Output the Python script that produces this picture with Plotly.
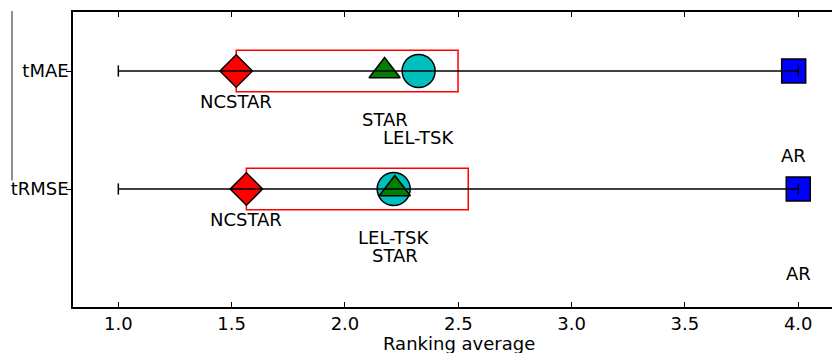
import plotly.graph_objects as go

# ---- data ----
metrics = ["tMAE", "tRMSE"]
metric_pos = [1, 0]
methods = ["NCSTAR", "LEL-TSK", "STAR", "AR"]
rank_tmae = [1.52, 2.325, 2.175, 3.98]
rank_trmse = [1.565, 2.215, 2.22, 4.0]
rank_range = [1.0, 4.0]
critical_difference = 0.979
xtick_vals = [1.0, 1.5, 2.0, 2.5, 3.0, 3.5, 4.0]
xtick_text = ["1.0", "1.5", "2.0", "2.5", "3.0", "3.5", "4.0"]
x_title = "Ranking average"

# ---- styles ----
FONT = "DejaVu Sans"
FS = 18
sym = {"NCSTAR": "diamond", "LEL-TSK": "circle", "STAR": "triangle-up", "AR": "square"}
col = {"NCSTAR": "#ff0000", "LEL-TSK": "#00bfbf", "STAR": "#008000", "AR": "#0000ff"}
siz = {"NCSTAR": 25, "LEL-TSK": 33, "STAR": 27, "AR": 24}

fig = go.Figure()
ranks = [rank_tmae, rank_trmse]
annotations = []
shapes = []

for m in methods:
    xs = [r[methods.index(m)] for r in ranks]
    fig.add_trace(go.Scatter(
        x=xs, y=metric_pos, mode="markers",
        marker=dict(symbol=sym[m], color=col[m], size=siz[m],
                    line=dict(color="black", width=1.5)),
        showlegend=False, hoverinfo="skip"))

for yv, r in zip(metric_pos, ranks):
    fig.add_trace(go.Scatter(
        x=rank_range, y=[yv, yv], mode="lines+markers",
        line=dict(color="black", width=1.5),
        marker=dict(symbol="line-ns-open", size=8, color="black",
                    line=dict(color="black", width=1.5)),
        showlegend=False, hoverinfo="skip"))
    best = min(r)
    shapes.append(dict(type="rect", xref="x", yref="y", x0=best,
                       x1=best + critical_difference, y0=yv - 0.175, y1=yv + 0.175,
                       line=dict(color="#ff0000", width=1.5), layer="below"))
    order = sorted(range(len(methods)), key=lambda i: r[i])
    for k, i in enumerate(order):
        annotations.append(dict(x=r[i], y=yv - 0.255 - 0.155 * k, xref="x", yref="y",
                                text=methods[i], showarrow=False,
                                xanchor="center", yanchor="middle",
                                font=dict(family=FONT, size=FS, color="black")))

annotations.append(dict(x=0.5086, y=-0.124, xref="paper", yref="paper",
                        text=x_title, showarrow=False, xanchor="center",
                        yanchor="middle",
                        font=dict(family=FONT, size=FS, color="black")))

shapes.append(dict(type="line", xref="paper", yref="paper", x0=-0.0804, x1=-0.0804,
                   y0=1.003, y1=0.4286, line=dict(color="#444444", width=1.2)))

fig.update_layout(
    width=832, height=353,
    margin=dict(l=73, r=0, t=12, b=46),
    paper_bgcolor="white", plot_bgcolor="white",
    font=dict(family=FONT, size=FS, color="black"),
    annotations=annotations, shapes=shapes,
    xaxis=dict(range=[0.8, 4.149], tickvals=xtick_vals, ticktext=xtick_text,
               showgrid=False, zeroline=False, showline=True, linecolor="black",
               linewidth=1.5, mirror="ticks", ticks="inside", ticklen=5,
               tickwidth=1.2, tickcolor="black",
               tickfont=dict(family=FONT, size=FS, color="black")),
    yaxis=dict(range=[-1, 1.5], tickvals=metric_pos, ticktext=metrics,
               showgrid=False, zeroline=False, showline=True, linecolor="black",
               linewidth=1.5, ticks="outside", ticklen=5, tickwidth=1.2,
               tickcolor="black", ticklabelstandoff=-6,
               tickfont=dict(family=FONT, size=FS, color="black")),
)

fig.write_html("out.html")
